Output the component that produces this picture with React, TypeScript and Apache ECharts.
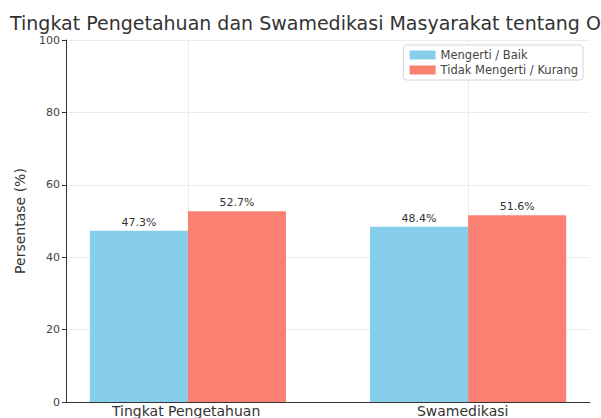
import { useEffect, useRef } from 'react';
import * as echarts from 'echarts';

const categories = ['Tingkat Pengetahuan', 'Swamedikasi'];
const seriesNames = ['Mengerti / Baik', 'Tidak Mengerti / Kurang'];
const mengertiValues = [47.3, 48.4];
const tidakValues = [52.7, 51.6];
const yTicks = [0, 20, 40, 60, 80, 100];
const titleText = 'Tingkat Pengetahuan dan Swamedikasi Masyarakat tentang O';
const yAxisName = 'Persentase (%)';

const FONT = 'DejaVu Sans';
const BAR_W = 0.35; // bar width in category units
const X_MIN = -0.435;
const X_MAX = 1.435;

export default function App() {
  const ref = useRef<HTMLDivElement>(null);
  useEffect(() => {
    if (!ref.current) return;
    const chart = echarts.init(ref.current, undefined, { renderer: 'svg' });
    const plotLeft = 66;
    const plotWidth = 524;
    const plotTop = 40;
    const plotHeight = 362;
    const unit = plotWidth / (X_MAX - X_MIN);
    const barPx = BAR_W * unit;
    const catLeft = plotLeft + (-0.5 - X_MIN) * unit;
    const catWidth = categories.length * unit;

    const idx = categories.map((_, i) => i);
    const labelFmt = (p: any) => `${Number(p.value[1]).toFixed(1)}%`;
    const barLabel = {
      show: true,
      position: 'top' as const,
      distance: 3,
      fontFamily: FONT,
      fontSize: 11,
      color: '#333',
      formatter: labelFmt,
    };

    chart.setOption({
      animation: false,
      backgroundColor: '#ffffff',
      textStyle: { fontFamily: FONT },
      title: {
        text: titleText,
        left: 5,
        top: 8,
        textStyle: { fontFamily: FONT, fontSize: 19, fontWeight: 'normal', color: '#333' },
      },
      legend: {
        data: seriesNames,
        orient: 'vertical',
        right: 18,
        top: 45,
        itemWidth: 26,
        itemHeight: 9,
        itemGap: 3,
        padding: [4, 5, 4, 6],
        borderColor: '#d6d6d6',
        borderWidth: 1,
        borderRadius: 3,
        backgroundColor: 'rgba(255,255,255,0.8)',
        icon: 'rect',
        textStyle: { fontFamily: FONT, fontSize: 11.5, color: '#444' },
      },
      grid: [
        { left: plotLeft, top: plotTop, width: plotWidth, height: plotHeight },
        { left: catLeft, top: plotTop, width: catWidth, height: plotHeight },
      ],
      xAxis: [
        {
          type: 'value',
          gridIndex: 0,
          min: X_MIN,
          max: X_MAX,
          axisLine: { show: true, onZero: false, lineStyle: { color: '#333', width: 1 } },
          axisTick: { show: false },
          axisLabel: { show: false },
          splitLine: { show: false },
        },
        {
          type: 'category',
          gridIndex: 1,
          data: categories,
          axisLine: { show: false },
          axisTick: { show: false },
          axisLabel: { fontFamily: FONT, fontSize: 14, color: '#333', margin: 4 },
          splitLine: { show: false },
        },
      ],
      yAxis: [
        {
          type: 'value',
          gridIndex: 0,
          min: yTicks[0],
          max: yTicks[yTicks.length - 1],
          interval: 20,
          name: yAxisName,
          nameLocation: 'middle',
          nameGap: 39,
          nameTextStyle: { fontFamily: FONT, fontSize: 14, color: '#333' },
          axisLine: { show: true, onZero: false, lineStyle: { color: '#333', width: 1 } },
          axisTick: { show: true, length: 4, lineStyle: { color: '#333' } },
          axisLabel: { fontFamily: FONT, fontSize: 11, color: '#444', margin: 6 },
          splitLine: { show: true, lineStyle: { color: '#ebebeb', width: 1 } },
        },
        {
          type: 'value',
          gridIndex: 1,
          min: 0,
          max: 100,
          show: false,
        },
      ],
      series: [
        {
          name: seriesNames[0],
          type: 'bar',
          xAxisIndex: 0,
          yAxisIndex: 0,
          barWidth: barPx,
          barGap: '-100%',
          itemStyle: { color: '#87ceeb' },
          label: barLabel,
          data: idx.map((i) => [i - BAR_W / 2, mengertiValues[i]]),
          markLine: {
            silent: true,
            symbol: 'none',
            label: { show: false },
            lineStyle: { color: '#ebebeb', width: 1, type: 'solid' },
            data: idx.map((i) => ({ xAxis: i })),
            z: 0,
          },
        },
        {
          name: seriesNames[1],
          type: 'bar',
          xAxisIndex: 0,
          yAxisIndex: 0,
          barWidth: barPx,
          barGap: '-100%',
          itemStyle: { color: '#fa8072' },
          label: barLabel,
          data: idx.map((i) => [i + BAR_W / 2, tidakValues[i]]),
        },
      ],
    });
    return () => chart.dispose();
  }, []);
  return (
    <div
      ref={ref}
      style={{ position: 'fixed', left: 0, top: 0, width: 601, height: 418 }}
    />
  );
}
